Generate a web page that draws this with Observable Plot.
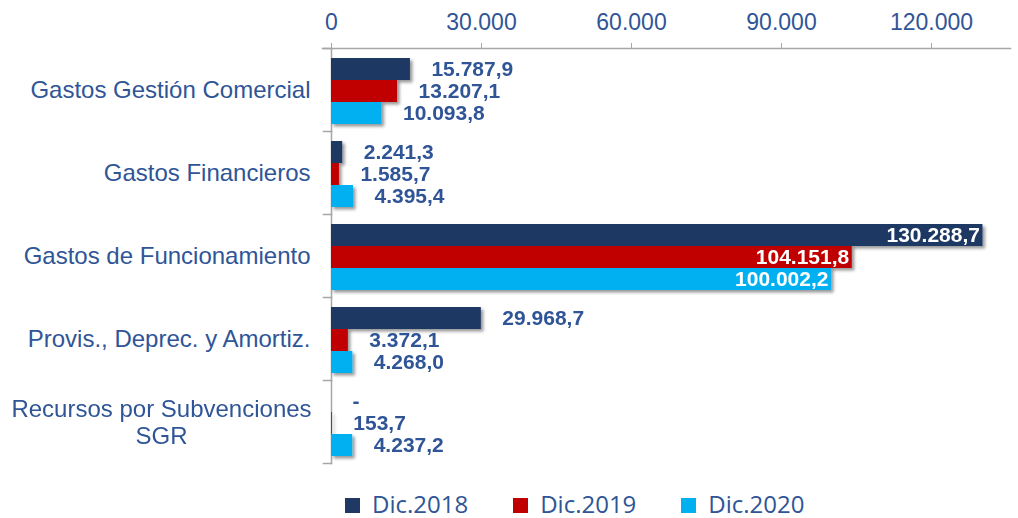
<!DOCTYPE html>
<html><head><meta charset="utf-8">
<script src="https://cdn.jsdelivr.net/npm/d3@7"></script>
<script src="https://cdn.jsdelivr.net/npm/@observablehq/plot@0.6"></script>
<style>
body{margin:0;background:#fff;font-family:"Liberation Sans",Arial,sans-serif;overflow:hidden;}
#chart svg{display:block;}
#legend{display:flex;align-items:center;height:24px;margin-top:14px;padding-left:345px;font-family:"Open Sans",sans-serif;font-size:24px;line-height:1;color:#2F5597;}
.item{display:flex;align-items:center;margin-right:45px;}
.sw{width:15px;height:15px;margin-right:12px;margin-top:3px;}
</style></head><body><div id="chart"></div><div id="legend"></div>
<script>
const categories = ["Gastos Gestión Comercial","Gastos Financieros","Gastos de Funcionamiento","Provis., Deprec. y Amortiz.","Recursos por Subvenciones\nSGR"];
const series = ["Dic.2018","Dic.2019","Dic.2020"];
const colors = ["#1F3864","#C00000","#00B0F0"];
const values2018 = [15787.9, 2241.3, 130288.7, 29968.7, 0];
const values2019 = [13207.1, 1585.7, 104151.8, 3372.1, 153.7];
const values2020 = [10093.8, 4395.4, 100002.2, 4268.0, 4237.2];
const xTicks = [0, 30000, 60000, 90000, 120000];

const seriesValues = [values2018, values2019, values2020];
const data = [];
categories.forEach((c, i) => series.forEach((s, j) => data.push({category: c, series: s, value: seriesValues[j][i]})));

const loc = d3.formatLocale({decimal: ",", thousands: ".", grouping: [3], currency: ["", ""]});
const fmt1 = loc.format(",.1f");
const fmt0 = loc.format(",.0f");
const label = v => v === 0 ? "-" : fmt1(v);
const labelBlue = "#2F5597";
const axisGray = "#A6A6A6";

const W = 1018, H = 478, ML = 331, MR = 12, MT = 48, MB = 15;
const innerW = W - ML - MR;
const inside = d => d.value >= 50000;

const chart = Plot.plot({
  width: W, height: H,
  marginLeft: ML, marginRight: MR, marginTop: MT, marginBottom: MB,
  style: {fontFamily: "'Liberation Sans', Arial, sans-serif", background: "#fff"},
  x: {domain: [0, 135000], axis: null},
  y: {domain: series, axis: null, paddingInner: 0, paddingOuter: 0.35, align: 0.6},
  fy: {domain: categories, axis: null, padding: 0},
  color: {domain: series, range: colors},
  marks: [
    Plot.frame({anchor: "top", fy: categories[0], stroke: axisGray, strokeWidth: 1.5, insetLeft: -9, insetRight: -4}),
    Plot.frame({anchor: "left", stroke: axisGray, strokeWidth: 1.5}),
    Plot.frame({anchor: "top", stroke: axisGray, strokeWidth: 1.5, insetLeft: -8, insetRight: innerW}),
    Plot.frame({anchor: "bottom", fy: categories[categories.length - 1], stroke: axisGray, strokeWidth: 1.5, insetLeft: -8, insetRight: innerW}),
    Plot.axisX({anchor: "top", label: null, ticks: xTicks, tickFormat: fmt0, tickSize: 6, tickPadding: 13, fontSize: 23, fill: labelBlue, stroke: axisGray}),
    Plot.barX(data, {x: "value", y: "series", fy: "category", fill: "series"}),
    Plot.text(data.filter(d => !inside(d)), {x: d => Math.max(0, d.value), y: "series", fy: "category", text: d => label(d.value), textAnchor: "start", dx: 21, fill: labelBlue, fontWeight: "bold", fontSize: 21}),
    Plot.text(data.filter(inside), {x: "value", y: "series", fy: "category", text: d => label(d.value), textAnchor: "end", dx: -3, fill: "white", fontWeight: "bold", fontSize: 21}),
    Plot.text(categories.filter(c => !c.includes("\n")), {fy: d => d, text: d => d, frameAnchor: "left", textAnchor: "end", dx: -21, fill: labelBlue, fontSize: 24}),
    Plot.text(categories.filter(c => c.includes("\n")), {fy: d => d, text: d => d, frameAnchor: "left", textAnchor: "middle", dx: -170, lineHeight: 1.13, fill: labelBlue, fontSize: 24})
  ]
});

const svg = d3.select(chart);
const f = svg.insert("defs", ":first-child").append("filter").attr("id", "shadow").attr("x", "-10%").attr("y", "-20%").attr("width", "130%").attr("height", "160%");
f.append("feDropShadow").attr("dx", 2.5).attr("dy", 2.5).attr("stdDeviation", 1.5).attr("flood-color", "#000").attr("flood-opacity", 0.4);
svg.selectAll('g[aria-label="bar"]').attr("filter", "url(#shadow)");

document.getElementById("chart").appendChild(chart);

const lg = d3.select("#legend");
series.forEach((s, j) => {
  const it = lg.append("div").attr("class", "item");
  it.append("div").attr("class", "sw").style("background", colors[j]);
  it.append("span").text(s);
});
</script></body></html>
